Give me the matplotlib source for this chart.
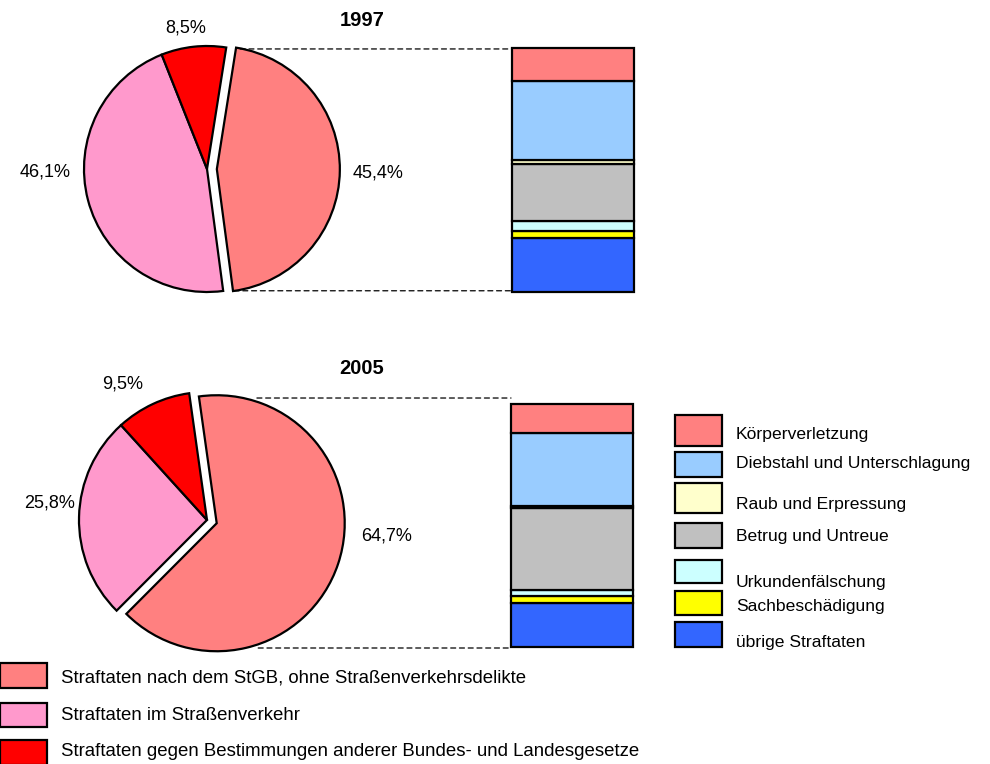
import matplotlib
matplotlib.use('Agg')
import matplotlib.pyplot as plt
from matplotlib.patches import Rectangle, ConnectionPatch
from matplotlib.transforms import blended_transform_factory

plt.rcParams['font.family'] = ['Liberation Sans', 'DejaVu Sans']

# Anteile der Straftatengruppen (Pie) in %
years = ['1997', '2005']
pie_names = ['Straftaten nach dem StGB, ohne Straßenverkehrsdelikte',
             'Straftaten im Straßenverkehr',
             'Straftaten gegen Bestimmungen anderer Bundes- und Landesgesetze']
pie_1997 = [45.4, 46.1, 8.5]
pie_2005 = [64.7, 25.8, 9.5]
pie_colors = ['#FF8080', '#FF99CC', '#FF0000']

# Aufteilung der StGB-Straftaten (gestapelte Säule) in %
stgb_names = ['Körperverletzung', 'Diebstahl und Unterschlagung', 'Raub und Erpressung',
              'Betrug und Untreue', 'Urkundenfälschung', 'Sachbeschädigung', 'übrige Straftaten']
stgb_1997 = [13.4, 32.2, 1.6, 23.3, 4.1, 3.0, 21.8]
stgb_2005 = [11.9, 29.9, 0.8, 33.6, 2.6, 2.7, 18.2]
stgb_colors = ['#FF8080', '#99CCFF', '#FFFFCC', '#C0C0C0', '#CCFFFF', '#FFFF00', '#3366FF']

W, H = 990, 764
fig = plt.figure(figsize=(W / 100, H / 100), dpi=100)


def px(x, y):
    return x / W, 1 - y / H


def pie_axes(cx, cy, r, half=1.45):
    side = 2 * half * r
    left, top = px(cx - half * r, cy - half * r)
    return fig.add_axes([left, top - side / H, side / W, side / H])


def bar_axes(x0, y0, x1, y1):
    left, bottom = px(x0, y1)
    return fig.add_axes([left, bottom, (x1 - x0) / W, (y1 - y0) / H])


def draw_pie(ax, values, start, label_pos):
    ax.pie(values, colors=pie_colors, startangle=start, counterclock=False,
           explode=[0.08, 0, 0], radius=1,
           wedgeprops=dict(edgecolor='black', linewidth=1.6))
    for v, (lx, ly) in zip(values, label_pos):
        ax.text(lx, ly, f'{v:.1f}%'.replace('.', ','), fontsize=13, ha='center', va='center')
    ax.set_xlim(-1.45, 1.45)
    ax.set_ylim(-1.45, 1.45)
    ax.axis('off')


def draw_bar(ax, values):
    bottom = 0
    for v, c in reversed(list(zip(values, stgb_colors))):
        ax.bar(0, v, bottom=bottom, width=1, color=c, edgecolor='black',
               linewidth=1.6, clip_on=False)
        bottom += v
    ax.set_xlim(-0.5, 0.5)
    ax.set_ylim(0, bottom)
    ax.axis('off')


def connect(ax_pie, ax_bar, x_start, y):
    tr = blended_transform_factory(ax_bar.transAxes, ax_pie.transData)
    con = ConnectionPatch(xyA=(x_start, y), coordsA=ax_pie.transData,
                          xyB=(0, y), coordsB=tr,
                          linestyle=(0, (4, 3)), linewidth=0.9, color='black')
    fig.add_artist(con)


# 1997
ax_p1 = pie_axes(207, 169, 123)
draw_pie(ax_p1, pie_1997, 81, [(1.39, -0.03), (-1.317, -0.024), (-0.17, 1.146)])
ax_b1 = bar_axes(512, 48, 634, 292)
draw_bar(ax_b1, stgb_1997)
connect(ax_p1, ax_b1, 0.27, 0.976)
connect(ax_p1, ax_b1, 0.22, -0.99)
fig.text(*px(362, 20), years[0], fontsize=14.5, fontweight='bold', ha='center', va='center')

# 2005
ax_p2 = pie_axes(207, 520, 128)
draw_pie(ax_p2, pie_2005, 98, [(1.40, -0.125), (-1.23, 0.13), (-0.66, 1.06)])
ax_b2 = bar_axes(511, 404, 633, 647)
draw_bar(ax_b2, stgb_2005)
connect(ax_p2, ax_b2, 0.39, 0.953)
connect(ax_p2, ax_b2, 0.40, -1.0)
fig.text(*px(362, 369), years[1], fontsize=14.5, fontweight='bold', ha='center', va='center')


def legend_row(x0, x1, y0, y1, tx, ty, color, label, size):
    left, bottom = px(x0, y1)
    fig.add_artist(Rectangle((left, bottom), (x1 - x0) / W, (y1 - y0) / H,
                             transform=fig.transFigure, facecolor=color,
                             edgecolor='black', linewidth=1.6))
    fig.text(*px(tx, ty), label, fontsize=size, ha='left', va='center')


# Legende StGB-Gruppen
right_boxes = [(415, 446), (452, 477), (483, 513), (523, 548), (560, 583), (591, 615), (622, 647)]
right_text_y = [435, 463, 505, 536, 582, 606, 643]
for (y0, y1), ty, c, name in zip(right_boxes, right_text_y, stgb_colors, stgb_names):
    legend_row(675, 722, y0, y1, 736, ty, c, name, 12.6)

# Legende Straftatengruppen
bottom_boxes = [(663, 688), (703, 727), (740, 765)]
bottom_text_y = [678, 716, 752]
for (y0, y1), ty, c, name in zip(bottom_boxes, bottom_text_y, pie_colors, pie_names):
    legend_row(0, 47, y0, y1, 61, ty, c, name, 13.4)

fig.savefig('out.png', dpi=100)
